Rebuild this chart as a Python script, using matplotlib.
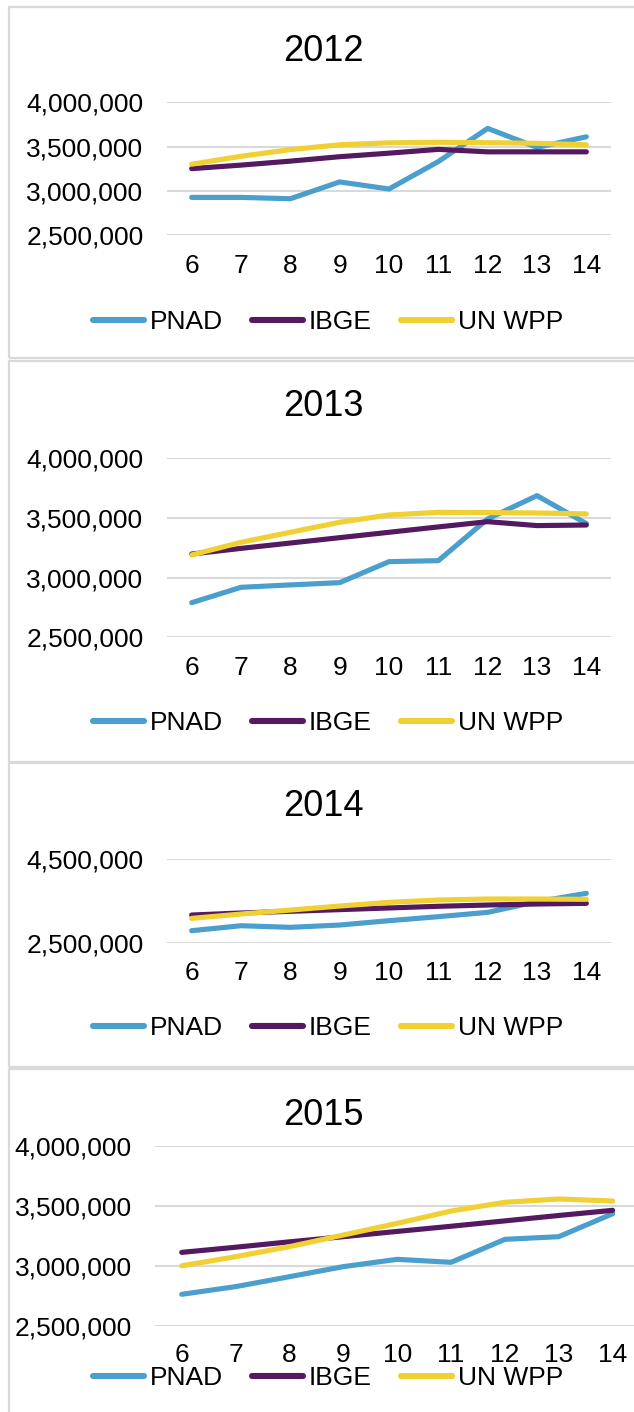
import matplotlib
matplotlib.use("Agg")
import matplotlib.pyplot as plt
import numpy as np
from matplotlib.ticker import FuncFormatter
from matplotlib.patches import Rectangle

plt.rcParams['font.family'] = ['Liberation Sans', 'DejaVu Sans']

# ---------------- data ----------------
ages = [6, 7, 8, 9, 10, 11, 12, 13, 14]
age_labels = ["6", "7", "8", "9", "10", "11", "12", "13", "14"]
series_names = ["PNAD", "IBGE", "UN WPP"]
years = ["2012", "2013", "2014", "2015"]

pnad_2012 = [2925000, 2925000, 2910000, 3100000, 3020000, 3330000, 3705000, 3490000, 3610000]
ibge_2012 = [3250000, 3290000, 3335000, 3385000, 3425000, 3468000, 3440000, 3440000, 3440000]
unwpp_2012 = [3300000, 3390000, 3465000, 3520000, 3542000, 3548000, 3544000, 3536000, 3520000]

pnad_2013 = [2790000, 2919000, 2939000, 2958000, 3134000, 3142000, 3492000, 3687000, 3453000]
ibge_2013 = [3198000, 3245000, 3290000, 3335000, 3380000, 3425000, 3469000, 3436000, 3441000]
unwpp_2013 = [3190000, 3296000, 3380000, 3464000, 3525000, 3547000, 3545000, 3542000, 3534000]

pnad_2014 = [2787000, 2906000, 2867000, 2922000, 3026000, 3122000, 3225000, 3480000, 3679000]
ibge_2014 = [3161000, 3210000, 3250000, 3290000, 3330000, 3370000, 3400000, 3425000, 3440000]
unwpp_2014 = [3082000, 3185000, 3280000, 3376000, 3464000, 3520000, 3544000, 3544000, 3536000]

pnad_2015 = [2762000, 2826000, 2909000, 2993000, 3054000, 3029000, 3221000, 3243000, 3435000]
ibge_2015 = [3112000, 3155000, 3200000, 3243000, 3287000, 3330000, 3375000, 3420000, 3463000]
unwpp_2015 = [3000000, 3076000, 3160000, 3257000, 3354000, 3457000, 3530000, 3558000, 3541000]

colors = ["#4A9FCD", "#531961", "#F0D032"]

W, H = 634, 1412
fig = plt.figure(figsize=(W / 100, H / 100), dpi=100)

def rect(x0, x1, ytop, ybot):
    return [x0 / W, 1 - ybot / H, (x1 - x0) / W, (ybot - ytop) / H]

panels = [
    dict(year=years[0], data=[pnad_2012, ibge_2012, unwpp_2012], ax=(167, 611, 102.3, 235.0),
         ylim=(2500000, 4000000), step=500000, title_base=61, leg_y=322, leg_x=328,
         box=(6.5, 358), ypad=17, xpad=13.5),
    dict(year=years[1], data=[pnad_2013, ibge_2013, unwpp_2013], ax=(167, 611, 458.3, 637.3),
         ylim=(2500000, 4000000), step=500000, title_base=416.5, leg_y=723, leg_x=328,
         box=(360.5, 762), ypad=17, xpad=13.5),
    dict(year=years[2], data=[pnad_2014, ibge_2014, unwpp_2014], ax=(167, 611, 859.0, 942.7),
         ylim=(2500000, 4500000), step=2000000, title_base=816.5, leg_y=1028, leg_x=328,
         box=(762.5, 1067), ypad=17, xpad=13.5),
    dict(year=years[3], data=[pnad_2015, ibge_2015, unwpp_2015], ax=(154.8, 639.6, 1146.0, 1325.7),
         ylim=(2500000, 4000000), step=500000, title_base=1125, leg_y=1378, leg_x=328,
         box=(1068.5, 1425), ypad=16.5, xpad=12.5),
]

fmt = FuncFormatter(lambda v, p: "{:,.0f}".format(v))

for p in panels:
    top, bot = p["box"]
    fig.patches.append(Rectangle((8.5 / W, 1 - bot / H), 700 / W, (bot - top) / H,
                                 transform=fig.transFigure, fill=False,
                                 edgecolor="#D9D9D9", linewidth=1.6, zorder=0))
    ax = fig.add_axes(rect(*p["ax"]))
    handles = []
    for vals, name, c in zip(p["data"], series_names, colors):
        h, = ax.plot(ages, vals, color=c, lw=3.7, solid_capstyle="round",
                     solid_joinstyle="round", label=name)
        handles.append(h)
    ax.set_xlim(5.5, 14.5)
    ax.set_ylim(*p["ylim"])
    ax.set_yticks(np.arange(p["ylim"][0], p["ylim"][1] + 1, p["step"]))
    ax.yaxis.set_major_formatter(fmt)
    ax.set_xticks(ages)
    ax.set_xticklabels(age_labels)
    ax.grid(axis="y", color="#D9D9D9", linewidth=1.5)
    ax.set_axisbelow(True)
    for s in ax.spines.values():
        s.set_visible(False)
    ax.tick_params(axis="y", length=0, pad=p["ypad"], labelsize=19, labelcolor="#000000")
    ax.tick_params(axis="x", length=0, pad=p["xpad"], labelsize=19, labelcolor="#000000")
    ax.patch.set_alpha(0)
    fig.text(323 / W, 1 - p["title_base"] / H, p["year"], ha="center", va="baseline",
             fontsize=26, color="#000000")
    leg = ax.legend(handles=handles, loc="center", ncol=3, frameon=False,
                    bbox_to_anchor=(p["leg_x"] / W, 1 - p["leg_y"] / H),
                    bbox_transform=fig.transFigure, fontsize=19, handlelength=1.93,
                    handletextpad=0.22, columnspacing=1.1, borderpad=0, borderaxespad=0)
    for ln in leg.get_lines():
        ln.set_linewidth(4.4)
        ln.set_solid_capstyle("round")

fig.savefig("out.png", dpi=100)
